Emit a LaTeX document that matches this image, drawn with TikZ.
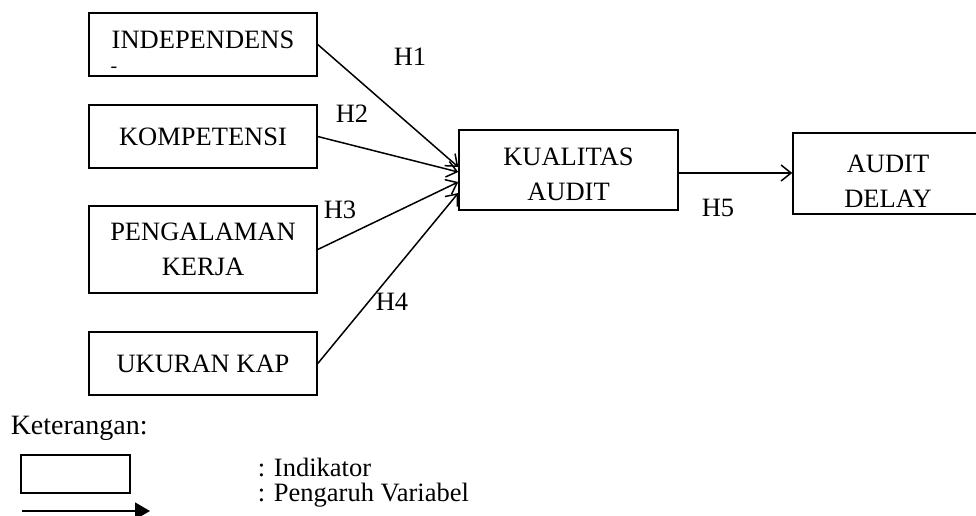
\documentclass[tikz,border=0pt]{standalone}
\usepackage{fontspec}
\setmainfont{Liberation Serif}
\usetikzlibrary{arrows.meta,positioning}

\begin{document}
\begin{tikzpicture}[x=1pt,y=-1pt,line width=1.5pt,font=\fontsize{26.5}{35}\selectfont]
  \tikzstyle{varbox}=[draw=black,minimum width=228pt,minimum height=63pt,align=center,inner sep=0pt]
  \tikzstyle{link}=[-{Straight Barb[length=10pt,width=16pt]}]
  \clip (0,0) rectangle (976,515);

  % variabel
  \node[varbox,text depth=9pt]        (indep)    at (203,44.5)  {INDEPENDENS};
  \node[font=\fontsize{20}{20}\selectfont] (indepdash) at (114,70) {-};
  \node[varbox]                       (kompet)   at (203,136.5) {KOMPETENSI};
  \node[varbox,minimum height=87pt]   (pengal)   at (203,249.5) {PENGALAMAN\\KERJA};
  \node[varbox]                       (ukuran)   at (203,363.5) {UKURAN KAP};
  \node[varbox,minimum width=219pt,minimum height=80pt,text height=62pt] (kualitas) at (568.5,170) {KUALITAS\\AUDIT};
  \node[varbox,minimum width=190pt,minimum height=81pt,text height=68pt] (delay)    at (888,173.5) {AUDIT\\DELAY};

  \path[link]
  (indep.east)  edge ([yshift=3pt]kualitas.west)
  (kompet.east) edge ([yshift=-2pt]kualitas.west)
  (pengal.east) edge ([yshift=-12pt]kualitas.west)
  (ukuran.east) edge ([yshift=-23pt]kualitas.west)
  ([yshift=-3pt]kualitas.east) edge ([yshift=-3pt]kualitas.east -| delay.west);

  % hipotesis
  \node (h1) at (410,57)  {H1};
  \node (h2) at (352,114) {H2};
  \node (h3) at (340,210) {H3};
  \node (h4) at (392,302) {H4};
  \node (h5) at (718,208) {H5};

  % keterangan
  \node[anchor=base west,inner sep=0pt,font=\fontsize{28}{30}\selectfont] (ket) at (10,434) {Keterangan:};
  \node[draw=black,minimum width=109pt,minimum height=38pt,inner sep=0pt] (legbox) at (75.5,474) {};
  \node[anchor=base west,inner sep=0pt] (legind) at (257,476) {: Indikator};
  \node[anchor=base west,inner sep=0pt] (legvar) at (257,501) {: Pengaruh Variabel};
  \coordinate (legfrom) at (22,511);
  \coordinate (legto)   at (150,511);
  \draw[-{Triangle[length=15pt,width=17pt]}] (legfrom) -- (legto);
\end{tikzpicture}
\end{document}
